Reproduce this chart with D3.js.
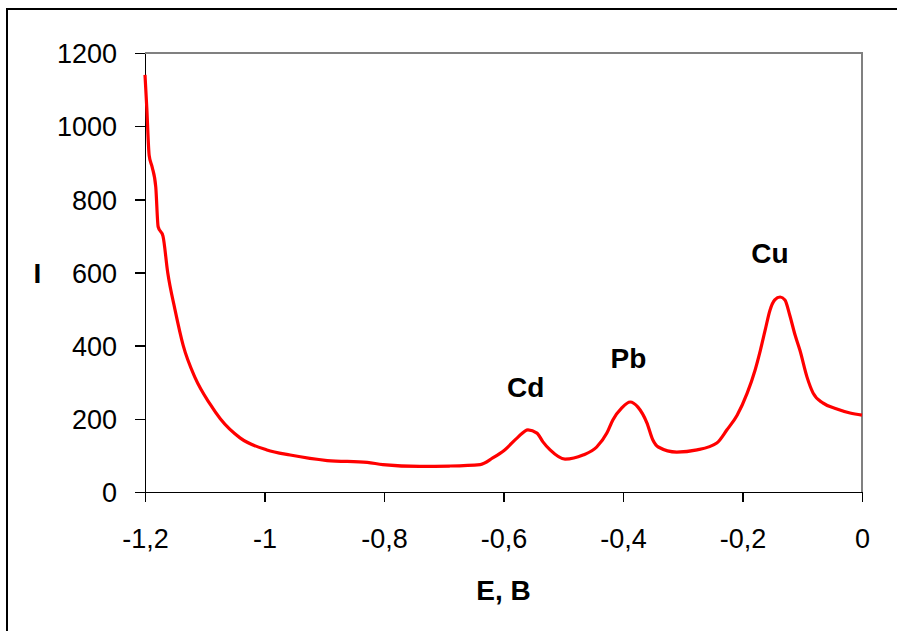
<!DOCTYPE html>
<html>
<head>
<meta charset="utf-8">
<script src="https://cdn.jsdelivr.net/npm/d3@7"></script>
<style>
  body { margin: 0; background: #fff; }
  svg { display: block; }
  .axis path, .axis line { stroke: #000; stroke-width: 1.5; shape-rendering: crispEdges; }
  .tick-label { font-family: "Liberation Sans", Arial, sans-serif; font-size: 27px; fill: #000; }
  .bold-label { font-family: "Liberation Sans", Arial, sans-serif; font-size: 28px; font-weight: bold; fill: #000; }
</style>
</head>
<body>
<svg id="chart" width="897" height="631"></svg>
<script>
// potential E, B
var potential = [
  -1.200, -1.197, -1.193, -1.188, -1.182, -1.178, -1.170, -1.162, -1.150, -1.136,
  -1.116, -1.091, -1.074, -1.041, -0.996, -0.957, -0.895, -0.828, -0.802, -0.740,
  -0.690, -0.639, -0.618, -0.598, -0.577, -0.559, -0.544, -0.534, -0.522, -0.497,
  -0.467, -0.444, -0.427, -0.417, -0.402, -0.388, -0.375, -0.360, -0.350, -0.341,
  -0.310, -0.276, -0.243, -0.226, -0.209, -0.192, -0.179, -0.170, -0.162, -0.154,
  -0.146, -0.137, -0.129, -0.121, -0.112, -0.104, -0.092, -0.082, -0.065, -0.042,
  -0.020, 0.000
];
// current I
var current = [
  1140, 1050, 920, 888, 834, 725, 700, 600, 500, 400,
  312, 240, 200, 148, 115, 101, 86, 81, 75, 70,
  71, 75, 93, 115, 148, 170, 161, 137, 115, 90,
  101, 123, 161, 197, 230, 246, 232, 189, 142, 123,
  109, 115, 134, 170, 210, 271, 333, 388, 443, 497,
  525, 533, 525, 484, 429, 388, 314, 271, 243, 227,
  216, 210
];
var xTicks = [-1.2, -1, -0.8, -0.6, -0.4, -0.2, 0];
var yTicks = [0, 200, 400, 600, 800, 1000, 1200];
var peakNames = ["Cd", "Pb", "Cu"];
var peakE = [-0.563, -0.391, -0.154];
var peakI = [260, 339, 626];

var svg = d3.select("#chart"),
    margin = {top: 53, right: 35, bottom: 139, left: 145},
    width = +svg.attr("width") - margin.left - margin.right,
    height = +svg.attr("height") - margin.top - margin.bottom;

// outer frame, right and bottom edges run off the picture
svg.append("rect")
    .attr("x", 7).attr("y", 9)
    .attr("width", 1000).attr("height", 1000)
    .attr("fill", "none")
    .attr("stroke", "#000")
    .attr("stroke-width", 2);

var g = svg.append("g").attr("transform", "translate(" + margin.left + "," + margin.top + ")");

var x = d3.scaleLinear().domain([-1.2, 0]).range([0, width]);
var y = d3.scaleLinear().domain([0, 1200]).range([height, 0]);

var fmt = function(d) { return String(+d.toFixed(1)).replace(".", ","); };

// gray top/right edge of the plot area
g.append("path")
    .attr("d", "M0,0H" + width + "V" + height)
    .attr("fill", "none")
    .attr("stroke", "#808080")
    .attr("stroke-width", 2);

var yAxis = g.append("g")
    .attr("class", "axis")
    .call(d3.axisLeft(y).tickValues(yTicks).tickSize(10).tickSizeOuter(0).tickFormat(""));

yAxis.selectAll(".tick").append("text")
    .attr("class", "tick-label")
    .attr("text-anchor", "end")
    .attr("x", -28)
    .attr("dy", "0.36em")
    .text(function(d) { return d; });

var xAxis = g.append("g")
    .attr("class", "axis")
    .attr("transform", "translate(0," + height + ")")
    .call(d3.axisBottom(x).tickValues(xTicks).tickSize(10).tickSizeOuter(0).tickFormat(""));

xAxis.selectAll(".tick").append("text")
    .attr("class", "tick-label")
    .attr("text-anchor", "middle")
    .attr("y", 56)
    .text(function(d) { return fmt(d); });

var line = d3.line()
    .curve(d3.curveMonotoneX)
    .x(function(d, i) { return x(potential[i]); })
    .y(function(d) { return y(d); });

g.append("path")
    .attr("d", line(current))
    .attr("fill", "none")
    .attr("stroke", "#ff0000")
    .attr("stroke-width", 3.2)
    .attr("stroke-linejoin", "round");

g.selectAll(".peak")
    .data(peakNames)
  .enter().append("text")
    .attr("class", "bold-label")
    .attr("text-anchor", "middle")
    .attr("x", function(d, i) { return x(peakE[i]); })
    .attr("y", function(d, i) { return y(peakI[i]); })
    .text(function(d) { return d; });

// axis titles
g.append("text")
    .attr("class", "bold-label")
    .attr("text-anchor", "middle")
    .attr("x", width / 2)
    .attr("y", height + 108)
    .text("E, B");

g.append("text")
    .attr("class", "bold-label")
    .attr("text-anchor", "middle")
    .attr("x", -107.5)
    .attr("y", y(600) + 10)
    .text("I");
</script>
</body>
</html>
